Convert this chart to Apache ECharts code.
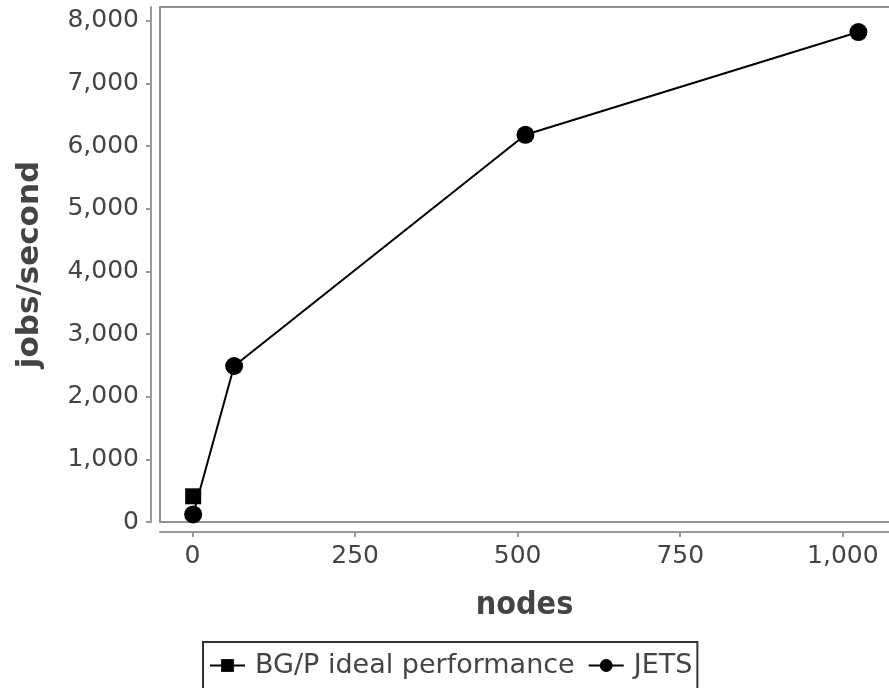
<!DOCTYPE html>
<html>
<head>
<meta charset="utf-8">
<script src="https://cdn.jsdelivr.net/npm/echarts@6/dist/echarts.min.js"></script>
<style>
  html, body { margin: 0; padding: 0; background: #fff; }
  #chart { width: 889px; height: 688px; }
</style>
</head>
<body>
<div id="chart"></div>
<script>
// Throughput vs. node count
const jetsNodes = [1, 64, 512, 1024];
const jetsRate = [120, 2490, 6180, 7820];
const idealNodes = [1];
const idealRate = [410];
const xTicks = [0, 250, 500, 750, 1000];
const yTicks = [0, 1000, 2000, 3000, 4000, 5000, 6000, 7000, 8000];

const X_MIN = -50, X_MAX = 1071;
const Y_MIN = 0, Y_MAX = 8220;

const FONT = 'DejaVu Sans';
const TEXT = '#444';
const AXIS = '#9a9a9a';
const FRAME = '#8f8f8f';
const fmt = v => Number(v).toLocaleString('en-US');

// plain line along one side of the plot area (top / bottom / left of the frame)
const frameX = pos => ({
  type: 'value', min: X_MIN, max: X_MAX, position: pos, offset: 0,
  axisLine: { show: true, onZero: false, lineStyle: { color: FRAME, width: 2 } },
  axisTick: { show: false }, axisLabel: { show: false }, splitLine: { show: false }
});
const frameY = {
  type: 'value', min: Y_MIN, max: Y_MAX, position: 'left', offset: 0,
  axisLine: { show: true, onZero: false, lineStyle: { color: FRAME, width: 2 } },
  axisTick: { show: false }, axisLabel: { show: false }, splitLine: { show: false }
};

const chart = echarts.init(document.getElementById('chart'), null, { renderer: 'canvas' });
chart.setOption({
  animation: false,
  backgroundColor: '#fff',
  grid: { left: 160, right: 0, top: 7, bottom: 166, show: false },
  xAxis: [
    {
      type: 'value', min: X_MIN, max: X_MAX, position: 'bottom', offset: 10,
      axisLine: { show: true, onZero: false, lineStyle: { color: AXIS, width: 2 } },
      axisTick: { show: true, customValues: xTicks, length: 5, lineStyle: { color: AXIS, width: 2 } },
      axisLabel: { customValues: xTicks, formatter: fmt, fontFamily: FONT, fontSize: 25, color: TEXT, margin: 12 },
      splitLine: { show: false },
      name: 'nodes', nameLocation: 'middle', nameGap: 58,
      nameTextStyle: { fontFamily: 'DejaVu Sans Condensed', fontWeight: 'bold', fontSize: 32, color: TEXT }
    },
    frameX('top'),
    frameX('bottom')
  ],
  yAxis: [
    {
      type: 'value', min: Y_MIN, max: Y_MAX, position: 'left', offset: 9,
      axisLine: { show: true, onZero: false, lineStyle: { color: AXIS, width: 2 } },
      axisTick: { show: true, customValues: yTicks, length: 5, lineStyle: { color: AXIS, width: 2 } },
      axisLabel: { customValues: yTicks, formatter: fmt, fontFamily: FONT, fontSize: 25, color: TEXT, margin: 12 },
      splitLine: { show: false },
      name: 'jobs/second', nameLocation: 'middle', nameGap: 106,
      nameTextStyle: { fontFamily: FONT, fontWeight: 'bold', fontSize: 31, color: TEXT }
    },
    frameY
  ],
  legend: {
    left: 203, top: 642,
    padding: [10, 5, 10, 6],
    borderColor: '#333', borderWidth: 2, borderRadius: 0,
    itemWidth: 35, itemHeight: 16, itemGap: 13,
    textStyle: { fontFamily: FONT, fontSize: 27, color: TEXT, padding: [0, 0, 0, 5] },
    data: ['BG/P ideal performance', 'JETS']
  },
  series: [
    {
      name: 'BG/P ideal performance', type: 'line',
      xAxisIndex: 0, yAxisIndex: 0,
      data: idealNodes.map((n, i) => [n, idealRate[i]]),
      symbol: 'rect', symbolSize: 16,
      itemStyle: { color: '#000' }, lineStyle: { color: '#000', width: 2 },
      z: 3
    },
    {
      name: 'JETS', type: 'line',
      xAxisIndex: 0, yAxisIndex: 0,
      data: jetsNodes.map((n, i) => [n, jetsRate[i]]),
      symbol: 'circle', symbolSize: 18,
      itemStyle: { color: '#000' }, lineStyle: { color: '#000', width: 2 },
      z: 4
    }
  ]
});
</script>
</body>
</html>
